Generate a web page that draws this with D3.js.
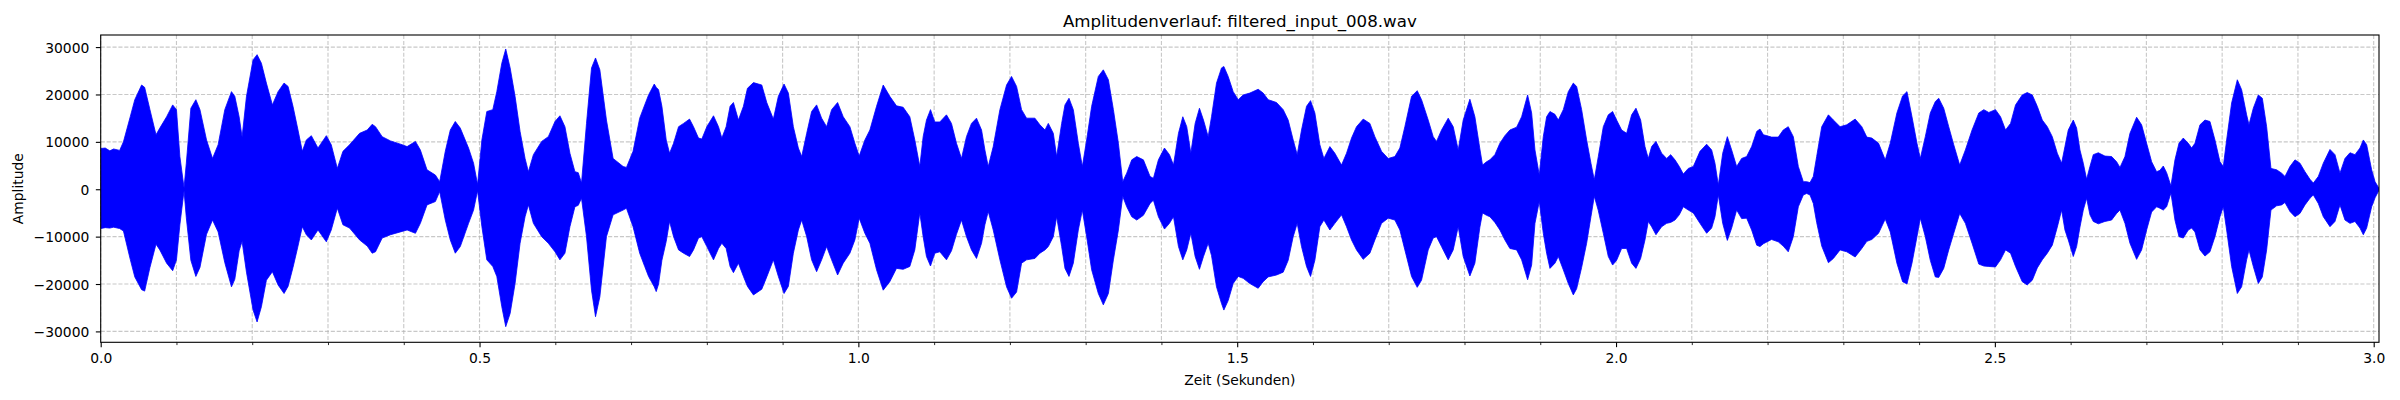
<!DOCTYPE html>
<html>
<head>
<meta charset="utf-8">
<script src="https://cdn.jsdelivr.net/npm/d3@7"></script>
<style>
    body { margin: 0; background: #ffffff; }
    text { font-family: "DejaVu Sans", sans-serif; }
</style>
</head>
<body>
<div id="wrapper"></div>
<script>

// envelope of the waveform (seconds, upper / lower amplitude)
const timeSec = [
    0.000, 0.006, 0.012, 0.017, 0.025, 0.030, 0.039, 0.045, 0.054, 0.058,
    0.065, 0.073, 0.078, 0.087, 0.095, 0.100, 0.1045, 0.110, 0.113, 0.119,
    0.1256, 0.131, 0.1397, 0.1476, 0.155, 0.1638, 0.1726, 0.177, 0.1827, 0.1866,
    0.1924, 0.2011, 0.2064, 0.2121, 0.2187, 0.2266, 0.2341, 0.242, 0.2473, 0.2538,
    0.2604, 0.2661, 0.2714, 0.278, 0.2868, 0.2978, 0.3043, 0.3123, 0.3197, 0.3285,
    0.3417, 0.3518, 0.3583, 0.3627, 0.3715, 0.3825, 0.3978, 0.4044, 0.4154, 0.4219,
    0.4307, 0.4417, 0.4474, 0.4548, 0.4614, 0.468, 0.4746, 0.4855, 0.4921, 0.4974,
    0.5031, 0.5096, 0.5175, 0.5228, 0.5294, 0.5346, 0.5404, 0.5469, 0.5535, 0.5601,
    0.5645, 0.5711, 0.582, 0.5908, 0.5996, 0.6061, 0.6127, 0.6193, 0.6259, 0.6303,
    0.6346, 0.6412, 0.6478, 0.6531, 0.6588, 0.6675, 0.6763, 0.6895, 0.6939, 0.7026,
    0.7114, 0.718, 0.7231, 0.7306, 0.7332, 0.7363, 0.7407, 0.7464, 0.7508, 0.7561,
    0.7627, 0.7693, 0.7772, 0.7824, 0.789, 0.7934, 0.800, 0.8088, 0.8154, 0.8198,
    0.8255, 0.8307, 0.8351, 0.8417, 0.8483, 0.8536, 0.8615, 0.8725, 0.8791, 0.8878,
    0.8944, 0.9019, 0.9076, 0.9142, 0.9208, 0.9252, 0.9318, 0.9383, 0.9449, 0.9515,
    0.9581, 0.9647, 0.9726, 0.980, 0.9888, 0.9954, 1.0011, 1.0086, 1.0152, 1.024,
    1.0328, 1.0415, 1.0503, 1.0591, 1.0679, 1.0745, 1.0811, 1.0855, 1.0899, 1.0952,
    1.1009, 1.1075, 1.1163, 1.1229, 1.1295, 1.1361, 1.1427, 1.1493, 1.1559, 1.1626,
    1.167, 1.1714, 1.178, 1.1868, 1.1956, 1.2022, 1.2088, 1.2154, 1.222, 1.233,
    1.2396, 1.2463, 1.2507, 1.2573, 1.2617, 1.2683, 1.2727, 1.278, 1.2837, 1.2903,
    1.2956, 1.3013, 1.3079, 1.3167, 1.3233, 1.330, 1.3366, 1.3432, 1.3489, 1.3542,
    1.3608, 1.3674, 1.3762, 1.385, 1.3894, 1.396, 1.404, 1.4106, 1.4159, 1.4225,
    1.4282, 1.4334, 1.4388, 1.4445, 1.4502, 1.4555, 1.4617, 1.4661, 1.4727, 1.4793,
    1.4824, 1.4881, 1.4947, 1.5013, 1.5079, 1.5167, 1.5277, 1.5343, 1.5409, 1.5519,
    1.5607, 1.5673, 1.5739, 1.5792, 1.5849, 1.5915, 1.5968, 1.6025, 1.6091, 1.6144,
    1.6223, 1.6289, 1.6377, 1.6443, 1.6509, 1.6575, 1.6663, 1.6751, 1.6817, 1.6905,
    1.6993, 1.7081, 1.7147, 1.7213, 1.7301, 1.7376, 1.7433, 1.7521, 1.7587, 1.7631,
    1.7697, 1.7785, 1.7851, 1.7917, 1.7983, 1.8071, 1.8137, 1.8203, 1.8238, 1.8291,
    1.8335, 1.8401, 1.8467, 1.8533, 1.8599, 1.8688, 1.8754, 1.8833, 1.8886, 1.893,
    1.8987, 1.904, 1.9084, 1.9128, 1.9194, 1.9238, 1.9304, 1.937, 1.9436, 1.948,
    1.9546, 1.9612, 1.9669, 1.9713, 1.9766, 1.9832, 1.9898, 1.9955, 2.0008, 2.0074,
    2.014, 2.0206, 2.0263, 2.0325, 2.0382, 2.0426, 2.047, 2.0527, 2.0602, 2.0668,
    2.0721, 2.0778, 2.0835, 2.0888, 2.0954, 2.102, 2.1108, 2.1196, 2.1262, 2.1306,
    2.135, 2.1408, 2.1469, 2.1526, 2.1592, 2.1658, 2.1724, 2.179, 2.1857, 2.190,
    2.1945, 2.2053, 2.2141, 2.2207, 2.2273, 2.234, 2.2406, 2.2472, 2.2516, 2.256,
    2.2604, 2.2648, 2.2715, 2.2803, 2.2869, 2.2957, 2.3045, 2.3156, 2.3244, 2.331,
    2.3376, 2.3465, 2.3553, 2.3619, 2.3707, 2.3782, 2.384, 2.3906, 2.3972, 2.4016,
    2.4082, 2.4148, 2.4214, 2.4259, 2.4325, 2.4391, 2.4457, 2.4536, 2.4611, 2.4699,
    2.4788, 2.4854, 2.492, 2.5008, 2.5075, 2.5141, 2.5207, 2.5273, 2.5361, 2.5427,
    2.5494, 2.556, 2.5626, 2.5692, 2.5758, 2.5824, 2.5881, 2.5925, 2.5969, 2.6035,
    2.6079, 2.6123, 2.6167, 2.6211, 2.6255, 2.6299, 2.6365, 2.6453, 2.6541, 2.6607,
    2.6651, 2.6717, 2.6783, 2.6871, 2.6937, 2.7003, 2.7069, 2.7135, 2.7179, 2.7223,
    2.7267, 2.7324, 2.7377, 2.743, 2.7487, 2.7553, 2.7597, 2.7641, 2.7707, 2.7773,
    2.7839, 2.7905, 2.7971, 2.8015, 2.8059, 2.8125, 2.820, 2.8257, 2.8323, 2.8354,
    2.8411, 2.8477, 2.853, 2.8587, 2.8644, 2.8719, 2.8785, 2.8829, 2.8895, 2.8961,
    2.9027, 2.9093, 2.9159, 2.9203, 2.9269, 2.9335, 2.9423, 2.9489, 2.9555, 2.9621,
    2.9687, 2.9753, 2.9819, 2.9863, 2.9907, 2.9973, 3.0018, 3.007
];

const upperEnv = [
    8600, 8700, 8100, 8500, 8200, 10000, 15300, 18900, 22000, 21500,
    16800, 11500, 12900, 15300, 17800, 16800, 6900, 300, 5500, 17100,
    18900, 16800, 10400, 6500, 9400, 16800, 20600, 19600, 15300, 11000,
    19600, 27300, 28400, 26600, 22400, 17800, 20600, 22400, 21700, 17500,
    12500, 8000, 10400, 11300, 8700, 11300, 9400, 4400, 8000, 9400,
    11800, 12500, 13700, 13200, 11100, 10200, 9400, 9000, 10100, 8300,
    4100, 3000, 1600, 8000, 12500, 14300, 12900, 8700, 5500, 1000,
    10400, 16400, 16800, 20600, 26600, 29600, 25600, 19600, 12200, 6500,
    3700, 7300, 10100, 11100, 14300, 15500, 13200, 7600, 3700, 3500,
    1300, 13900, 25600, 27700, 25200, 14600, 6500, 4800, 4600, 8000,
    15000, 17800, 19900, 22200, 21500, 21000, 17500, 10400, 7600, 9700,
    13200, 13900, 14800, 13200, 10800, 10600, 13200, 15500, 13200, 10800,
    13200, 17500, 18300, 14600, 17500, 21300, 22500, 22000, 18300, 14800,
    19600, 22200, 20300, 13200, 8700, 6900, 11800, 16400, 17800, 15000,
    13200, 16800, 18300, 15300, 13200, 9700, 7000, 10400, 12500, 17500,
    22000, 19600, 17600, 17300, 15300, 10400, 4800, 11100, 14600, 16800,
    14200, 14200, 15700, 13900, 9700, 6500, 11100, 13900, 15000, 12500,
    8300, 4800, 9000, 16800, 22000, 23800, 21700, 16800, 15000, 15000,
    13600, 12500, 13900, 11800, 6900, 13900, 17800, 19200, 16800, 9700,
    4800, 10400, 17500, 23800, 25200, 23100, 16800, 9700, 1600, 3400,
    6200, 6900, 6200, 2700, 2300, 6200, 8700, 7300, 5100, 11800,
    15300, 13200, 7600, 13900, 17100, 14600, 11100, 15300, 22400, 25600,
    25900, 23800, 20600, 18900, 19900, 20300, 21100, 20300, 18900, 18300,
    16800, 14600, 10400, 7300, 12500, 17500, 18700, 16100, 9400, 6500,
    9000, 7600, 5100, 7600, 10800, 13200, 14800, 13900, 11100, 8000,
    6500, 6900, 8700, 13200, 19600, 20800, 18900, 14600, 11100, 10100,
    12500, 15000, 13200, 8300, 14600, 19000, 15300, 8500, 5100, 5800,
    6200, 7300, 9700, 11300, 12500, 13100, 15300, 19900, 16100, 8300,
    3000, 11100, 15300, 16400, 15800, 14600, 16800, 20600, 22400, 21700,
    16800, 10400, 5500, 2000, 6900, 13200, 15700, 16400, 14600, 12500,
    11800, 15700, 17100, 14600, 9000, 6500, 9000, 10100, 7600, 6500,
    7300, 6200, 4800, 3200, 4400, 4800, 8000, 9500, 8300, 5500,
    900, 7600, 11100, 8300, 4800, 6500, 6900, 9000, 12200, 12700,
    11500, 11000, 11000, 12500, 13200, 11100, 4800, 1600, 1600, 1400,
    2700, 6900, 13200, 15700, 14600, 13200, 13600, 14800, 13200, 11000,
    10800, 9700, 6200, 9700, 16100, 19700, 20600, 15300, 9700, 6500,
    11100, 16100, 18500, 19200, 17100, 13200, 9400, 5100, 8300, 12500,
    16100, 16800, 16200, 16800, 15300, 12500, 13900, 17800, 19900, 20400,
    19900, 17500, 14600, 13200, 11100, 7600, 5500, 9000, 12500, 14600,
    12900, 8300, 5500, 2100, 4800, 7300, 7700, 7000, 6900, 5800,
    4600, 6900, 11800, 15200, 13600, 9700, 5800, 3700, 4000, 4900,
    3500, 700, 6200, 9700, 10800, 9700, 8700, 9700, 13600, 14600,
    14300, 10400, 5800, 4800, 10400, 18200, 23100, 21000, 15700, 13600,
    17100, 19900, 19200, 13200, 4400, 4100, 3400, 2700, 4800, 6200,
    5500, 3700, 2100, 1300, 2700, 5500, 8400, 7300, 3400, 6500,
    7700, 7300, 8700, 10400, 9400, 4100, 1600, 200
];

const lowerEnv = [
    -8300, -8100, -8200, -8000, -8300, -8800, -14800, -18500, -21200, -21500,
    -16500, -11600, -12800, -15600, -17200, -14900, -7500, -300, -6000, -15000,
    -18400, -16500, -9500, -6500, -9000, -15500, -20600, -19000, -13000, -11000,
    -17500, -25500, -28000, -24800, -19200, -17400, -20200, -22000, -20500, -16500,
    -12000, -7900, -9600, -10700, -8600, -11100, -8600, -4000, -7500, -8200,
    -10700, -12000, -13500, -13200, -10300, -9600, -8900, -8600, -9300, -7200,
    -3300, -2600, -500, -6500, -10700, -13500, -12100, -7200, -4400, -300,
    -7900, -14900, -16300, -18400, -24800, -29000, -26200, -19900, -11400, -5800,
    -3300, -7200, -10000, -11400, -13200, -14900, -13500, -7900, -3700, -3400,
    -1900, -10000, -21300, -26900, -22700, -10000, -5400, -4400, -4000, -7900,
    -13500, -16300, -18400, -20600, -21600, -20000, -15000, -11000, -6800, -10000,
    -12800, -13500, -14200, -12800, -10300, -10000, -12100, -14900, -12500, -11400,
    -12500, -16300, -17600, -15600, -18400, -20500, -22300, -21100, -18500, -14900,
    -18400, -22000, -20500, -13500, -8600, -6500, -10000, -14900, -17400, -14900,
    -12100, -14900, -18100, -15600, -13500, -10700, -6100, -9300, -11400, -17000,
    -21300, -19500, -16700, -16900, -16300, -12800, -5000, -10000, -14200, -16200,
    -13500, -13200, -14900, -13000, -9500, -6500, -10000, -12800, -14600, -11400,
    -7500, -4700, -8600, -14900, -20600, -23000, -21700, -15600, -14900, -14600,
    -13500, -12800, -12100, -10000, -5800, -12100, -16700, -18400, -15600, -8600,
    -4400, -10000, -17000, -22000, -24400, -22000, -14900, -8600, -1500, -3700,
    -5800, -6500, -5500, -3000, -2300, -5800, -8400, -7200, -5800, -12100,
    -14900, -12800, -9300, -14200, -16900, -14200, -11400, -14000, -20600, -24100,
    -25500, -23500, -19900, -18400, -18800, -19900, -20900, -19500, -18500, -18100,
    -17500, -15000, -10000, -7200, -12100, -16300, -18400, -15000, -7900, -6500,
    -8600, -7200, -5400, -7900, -10700, -12800, -14800, -13500, -10700, -7200,
    -6100, -6500, -8600, -12800, -18400, -20700, -19200, -12800, -10300, -10000,
    -12100, -14900, -12800, -7900, -14200, -18300, -15600, -8000, -5000, -5500,
    -5800, -7000, -8600, -10700, -12500, -12800, -14900, -19100, -16000, -7200,
    -2600, -9300, -13500, -16700, -15600, -14200, -17000, -19900, -22300, -21000,
    -16500, -11400, -5800, -1500, -4500, -9300, -14200, -16000, -15000, -12500,
    -12500, -15600, -16700, -14600, -10700, -6800, -7900, -9600, -7900, -7200,
    -7000, -6500, -5400, -3700, -4400, -5000, -7200, -9300, -8200, -5800,
    -1200, -7200, -10800, -8200, -4400, -6200, -6100, -8600, -11800, -12100,
    -11500, -10600, -11100, -12000, -13200, -10000, -3700, -1200, -900, -1200,
    -3000, -7000, -12000, -15500, -14600, -12800, -13200, -14300, -12500, -11000,
    -10600, -9300, -6300, -9000, -15600, -19500, -20000, -15600, -10000, -6100,
    -10000, -15000, -18500, -18600, -16700, -12800, -9300, -5100, -7200, -11400,
    -15800, -16200, -16300, -16400, -14900, -12800, -13500, -16300, -19500, -20200,
    -19200, -16600, -14900, -13500, -11800, -8000, -4400, -8600, -10700, -14200,
    -12100, -8000, -4400, -1900, -5400, -6800, -7300, -6800, -6500, -5100,
    -4400, -7200, -11400, -14800, -12800, -8600, -4800, -3700, -4000, -4400,
    -3700, -800, -6500, -10000, -10300, -8600, -8200, -9000, -12800, -14100,
    -13200, -10000, -5800, -3700, -8600, -16300, -22000, -20600, -14900, -12800,
    -16300, -19900, -18500, -12800, -4400, -3500, -3300, -2800, -4700, -5800,
    -5100, -3300, -1900, -1200, -3000, -5800, -7900, -6800, -3300, -6500,
    -7200, -6800, -8200, -9600, -8200, -3700, -1800, -200
];

const xMajorTicks = [0.0, 0.5, 1.0, 1.5, 2.0, 2.5, 3.0];
const xMinorTicks = [0.1, 0.2, 0.3, 0.4, 0.6, 0.7, 0.8, 0.9, 1.1, 1.2, 1.3, 1.4,
                     1.6, 1.7, 1.8, 1.9, 2.1, 2.2, 2.3, 2.4, 2.6, 2.7, 2.8, 2.9];
const yTicks = [-30000, -20000, -10000, 0, 10000, 20000, 30000];

const chartTitle = "Amplitudenverlauf: filtered_input_008.wav";
const xTitle = "Zeit (Sekunden)";
const yTitle = "Amplitude";

function drawWaveform() {

    const data = timeSec.map((t, i) => ({ t, hi: upperEnv[i], lo: lowerEnv[i] }));

    const xAccessor = d => d.t;
    const hiAccessor = d => d.hi;
    const loAccessor = d => d.lo;

    // dimensions (matplotlib 24x4 in @ 100 dpi)
    const dms = {
        width: 2400,
        height: 400,
        margins: { top: 35, right: 21, bottom: 57.7, left: 100.7 }
    };
    dms.innerWidth = dms.width - dms.margins.left - dms.margins.right;
    dms.innerHeight = dms.height - dms.margins.top - dms.margins.bottom;

    const wrapper = d3.select("#wrapper")
        .append("svg")
            .attr("width", dms.width)
            .attr("height", dms.height);

    const inner = wrapper.append("g")
        .attr("transform", `translate(${dms.margins.left},${dms.margins.top})`);

    // scales
    const xScale = d3.scaleLinear()
        .domain([0, 3.007])
        .range([0, dms.innerWidth]);

    const yScale = d3.scaleLinear()
        .domain([-32300, 32550])
        .range([dms.innerHeight, 0]);

    // grid
    const gridColor = "#b0b0b0";
    const grid = inner.append("g").attr("class", "grid");

    grid.selectAll(".vgrid")
        .data(xMajorTicks.concat(xMinorTicks))
        .join("line")
            .attr("x1", d => xScale(d))
            .attr("x2", d => xScale(d))
            .attr("y1", 0)
            .attr("y2", dms.innerHeight)
            .attr("stroke", gridColor)
            .attr("stroke-opacity", 0.7)
            .attr("stroke-width", 1.1)
            .attr("stroke-dasharray", "4.1 1.8");

    grid.selectAll(".hgrid")
        .data(yTicks)
        .join("line")
            .attr("x1", 0)
            .attr("x2", dms.innerWidth)
            .attr("y1", d => yScale(d))
            .attr("y2", d => yScale(d))
            .attr("stroke", gridColor)
            .attr("stroke-opacity", 0.7)
            .attr("stroke-width", 1.1)
            .attr("stroke-dasharray", "4.1 1.8");

    // waveform envelope
    wrapper.append("defs").append("clipPath")
        .attr("id", "plot-clip")
        .append("rect")
            .attr("width", dms.innerWidth)
            .attr("height", dms.innerHeight);

    const areaGenerator = d3.area()
        .x(d => xScale(xAccessor(d)))
        .y0(d => yScale(loAccessor(d)))
        .y1(d => yScale(hiAccessor(d)));

    inner.append("path")
        .datum(data)
        .attr("clip-path", "url(#plot-clip)")
        .attr("d", areaGenerator)
        .attr("fill", "#0000ff")
        .attr("stroke", "#0000ff")
        .attr("stroke-width", 0.8)
        .attr("stroke-linejoin", "round");

    // axes
    const fmtX = d3.format(".1f");
    const fmtY = d => d3.format("d")(d).replace("-", "\u2212");

    const xAxis = inner.append("g")
        .attr("transform", `translate(0,${dms.innerHeight})`)
        .call(d3.axisBottom(xScale)
            .tickValues(xMajorTicks)
            .tickFormat(fmtX)
            .tickSizeInner(4.86)
            .tickSizeOuter(0)
            .tickPadding(5.5));

    const xMinorAxis = inner.append("g")
        .attr("transform", `translate(0,${dms.innerHeight})`)
        .call(d3.axisBottom(xScale)
            .tickValues(xMinorTicks)
            .tickFormat("")
            .tickSizeInner(2.78)
            .tickSizeOuter(0));

    const yAxis = inner.append("g")
        .call(d3.axisLeft(yScale)
            .tickValues(yTicks)
            .tickFormat(fmtY)
            .tickSizeInner(4.86)
            .tickSizeOuter(0)
            .tickPadding(6.5));

    [xAxis, xMinorAxis, yAxis].forEach(ax => {
        ax.select(".domain").remove();
        ax.selectAll(".tick line").attr("stroke", "#000").attr("stroke-width", 1.1);
        ax.selectAll(".tick text")
            .attr("fill", "#000")
            .style("font-size", "13.89px")
            .style("font-family", "'DejaVu Sans', sans-serif");
    });
    xMinorAxis.selectAll(".tick line").attr("stroke-width", 0.83);
    yAxis.selectAll(".tick text").attr("dy", "0.36em");

    // frame
    inner.append("rect")
        .attr("width", dms.innerWidth)
        .attr("height", dms.innerHeight)
        .attr("fill", "none")
        .attr("stroke", "#000")
        .attr("stroke-width", 1.1);

    // labels
    inner.append("text")
        .attr("x", dms.innerWidth / 2)
        .attr("y", -8.3)
        .attr("text-anchor", "middle")
        .style("font-size", "16.67px")
        .attr("fill", "#000")
        .text(chartTitle);

    inner.append("text")
        .attr("x", dms.innerWidth / 2)
        .attr("y", dms.innerHeight + 43)
        .attr("text-anchor", "middle")
        .style("font-size", "13.89px")
        .attr("fill", "#000")
        .text(xTitle);

    wrapper.append("text")
        .attr("transform", `translate(23, ${dms.margins.top + dms.innerHeight / 2}) rotate(-90)`)
        .attr("text-anchor", "middle")
        .style("font-size", "13.89px")
        .attr("fill", "#000")
        .text(yTitle);
}

drawWaveform();
</script>
</body>
</html>
